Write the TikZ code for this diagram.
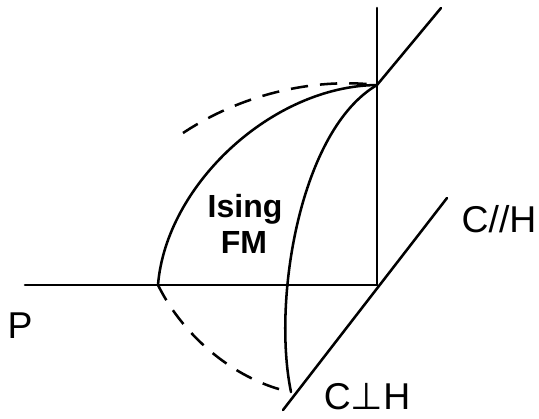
\documentclass[tikz,border=0pt]{standalone}
\usepackage{fontspec}
\setmainfont{Liberation Sans}
\newfontfamily\dvs{DejaVu Sans}
\begin{document}
\begin{tikzpicture}[x=0.75pt,y=-0.75pt,
  ln/.style={line width=1.9pt,line cap=round},
  dsh/.style={line width=1.9pt,dash pattern=on 13pt off 9pt},
  lbl/.style={font=\fontsize{28}{30}\selectfont,inner sep=0pt,anchor=base,text depth=0pt},
  ising/.style={font=\fontsize{24}{27}\selectfont\bfseries,inner sep=0pt,anchor=base}]
\useasboundingbox (0,0) rectangle (539,418);
% key points
\coordinate (O) at (377,285);
\coordinate (Pl) at (25,285);
\coordinate (Vt) at (377,8);
\coordinate (T) at (377,85);
\coordinate (Dt) at (441,8);
\coordinate (Lt) at (447,198);
\coordinate (Lb) at (283,410);
\coordinate (A) at (158,285);
\coordinate (B) at (291,392);
\coordinate (Du) at (183,133);
% axes
\draw[ln] (Pl) -- (O);
\draw[ln] (O) -- (Vt);
\draw[ln] (T) -- (Dt);
\draw[ln] (Lt) -- (Lb);
% solid curves
\draw[ln] (A) .. controls (166,185) and (272,86) .. (T);
\draw[ln] (T) .. controls (300,130) and (272,300) .. (B);
% dashed curves
\draw[dsh] (Du) .. controls (245,92) and (318,78) .. (T);
\draw[dsh] (A) .. controls (185,340) and (240,382) .. (B);
% labels
\node[lbl] (p) at (20,338) {P};
\node[lbl] (cpar) at (499,232) {C//H};
\node[lbl] (cperp) at (367,409) {C{\dvs ⊥}H};
\node[ising] (is) at (245,217) {Ising};
\node[ising] (fm) at (244,253) {FM};
\end{tikzpicture}
\end{document}
